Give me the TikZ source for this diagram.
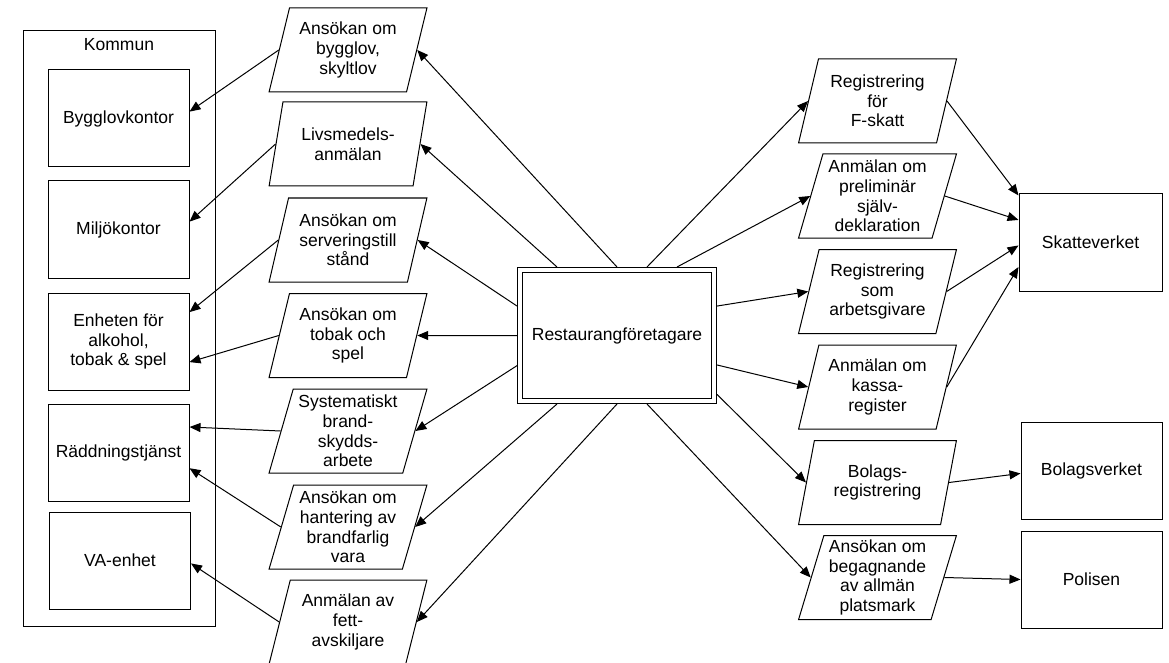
\documentclass[tikz,border=0pt]{standalone}
\usepackage{fontspec}
\setmainfont{Liberation Sans}
\usetikzlibrary{shapes.geometric,arrows.meta,calc}
\tikzset{
  every node/.style={font=\fontsize{17.5}{19.6}\selectfont, line width=1pt},
  kbox/.style={draw, rectangle, minimum width=141pt, minimum height=97pt, align=center, inner sep=0pt},
  para/.style={draw, trapezium, trapezium left angle=73, trapezium right angle=107,
    trapezium stretches=true, minimum width=158pt, minimum height=84pt, align=center, inner sep=0pt},
  arr/.style={-{Triangle[length=11pt,width=9pt]}, line width=1pt},
}
\begin{document}
\begin{tikzpicture}[x=1pt,y=-1pt]
\useasboundingbox (0,0) rectangle (1169,663);
% Kommun
\node[draw, rectangle, minimum width=192pt, minimum height=595pt, inner sep=0pt] (kommun) at (119,328.5) {};
\node (kl) at (119,45) {Kommun};
\node[kbox] (byg) at (118.5,118.5) {Bygglovkontor};
\node[kbox] (mil) at (118.5,229.5) {Miljökontor};
\node[kbox] (enh) at (118.5,341.5) {Enheten för\\alkohol,\\tobak \& spel};
\node[kbox] (rad) at (118.5,452.5) {Räddningstjänst};
\node[kbox] (va) at (120,560.5) {VA-enhet};
% middle parallelograms
\node[para] (p1) at (348,50) {Ansökan om\\bygglov,\\skyltlov};
\node[para] (p2) at (348,144) {Livsmedels-\\anmälan};
\node[para] (p3) at (348,240) {Ansökan om\\serveringstill\\stånd};
\node[para] (p4) at (348,335.5) {Ansökan om\\tobak och\\spel};
\node[para] (p5) at (348,431) {Systematiskt\\brand-\\skydds-\\arbete};
\node[para] (p6) at (348,527) {Ansökan om\\hantering av\\brandfarlig\\vara};
\node[para] (p7) at (348,622) {Anmälan av\\fett-\\avskiljare};
% center
\node[draw, double, double distance=4pt, outer sep=3pt, minimum width=194pt, minimum height=131pt, inner sep=0pt] (rest) at (617,335.5) {Restaurangföretagare};
% right parallelograms
\node[para] (r1) at (877.5,101) {Registrering\\för\\F-skatt};
\node[para] (r2) at (877.5,196) {Anmälan om\\preliminär\\själv-\\deklaration};
\node[para] (r3) at (877.5,291.5) {Registrering\\som\\arbetsgivare};
\node[para] (r4) at (877.5,387) {Anmälan om\\kassa-\\register};
\node[para] (r5) at (877.5,482.5) {Bolags-\\registrering};
\node[para] (r6) at (877.5,577.5) {Ansökan om\\begagnande\\av allmän\\platsmark};
% right boxes
\node[kbox, minimum width=143pt] (skv) at (1090.5,242.5) {Skatteverket};
\node[kbox] (bol) at (1091.5,470.5) {Bolagsverket};
\node[kbox] (pol) at (1091.5,579.5) {Polisen};
% center -> middle
\draw[arr] ($(rest.north west)!0.2!(rest.north east)$) -- (p2.east);
\draw[arr] ($(rest.north west)!0.5!(rest.north east)$) -- (p1.east);
\draw[arr] ($(rest.north west)!0.285!(rest.south west)$) -- (p3.east);
\draw[arr] ($(rest.north west)!0.5!(rest.south west)$) -- (p4.east);
\draw[arr] ($(rest.north west)!0.72!(rest.south west)$) -- (p5.east);
\draw[arr] ($(rest.south west)!0.2!(rest.south east)$) -- (p6.east);
\draw[arr] ($(rest.south west)!0.5!(rest.south east)$) -- (p7.east);
% center -> right
\draw[arr] ($(rest.north west)!0.65!(rest.north east)$) -- (r1.west);
\draw[arr] ($(rest.north west)!0.8!(rest.north east)$) -- (r2.west);
\draw[arr] ($(rest.north east)!0.285!(rest.south east)$) -- (r3.west);
\draw[arr] ($(rest.north east)!0.715!(rest.south east)$) -- (r4.west);
\draw[arr] ($(rest.north east)!0.93!(rest.south east)$) -- (r5.west);
\draw[arr] ($(rest.south west)!0.65!(rest.south east)$) -- (r6.west);
% middle -> kommun
\draw[arr] (p1.west) -- ($(byg.north east)!0.43!(byg.south east)$);
\draw[arr] (p2.west) -- ($(mil.north east)!0.42!(mil.south east)$);
\draw[arr] (p3.west) -- ($(enh.north east)!0.2!(enh.south east)$);
\draw[arr] (p4.west) -- ($(enh.north east)!0.71!(enh.south east)$);
\draw[arr] (p5.west) -- ($(rad.north east)!0.24!(rad.south east)$);
\draw[arr] (p6.west) -- ($(rad.north east)!0.66!(rad.south east)$);
\draw[arr] (p7.west) -- ($(va.north east)!0.53!(va.south east)$);
% right -> agencies
\draw[arr] (r1.east) -- ($(skv.north west)!0.02!(skv.south west)$);
\draw[arr] (r2.east) -- ($(skv.north west)!0.27!(skv.south west)$);
\draw[arr] (r3.east) -- ($(skv.north west)!0.53!(skv.south west)$);
\draw[arr] (r4.east) -- ($(skv.north west)!0.75!(skv.south west)$);
\draw[arr] (r5.east) -- ($(bol.north west)!0.53!(bol.south west)$);
\draw[arr] (r6.east) -- (pol.west);
\end{tikzpicture}
\end{document}
